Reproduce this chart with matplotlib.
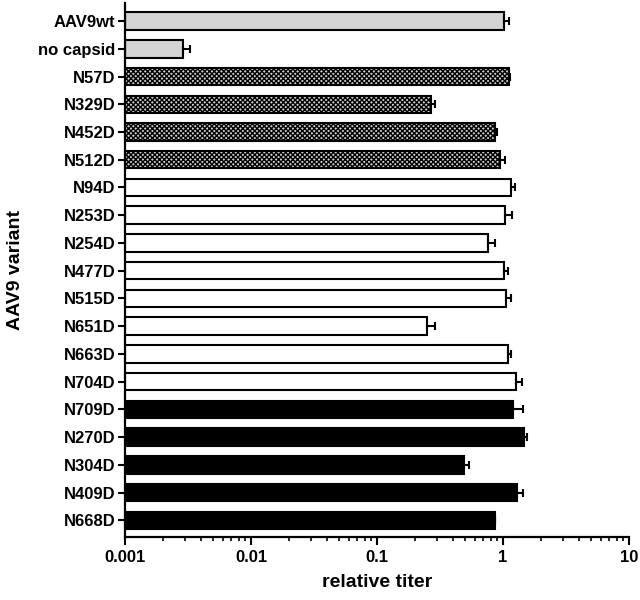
# AAV9 variant titers, horizontal bar chart on a log axis

import numpy as np
import matplotlib.pyplot as plt

plt.rcParams['font.family'] = ['Liberation Sans', 'DejaVu Sans']
plt.rcParams['font.weight'] = 'bold'
plt.rcParams['hatch.linewidth'] = 1.0

# data
variants = ['AAV9wt', 'no capsid', 'N57D', 'N329D', 'N452D', 'N512D',
            'N94D', 'N253D', 'N254D', 'N477D', 'N515D', 'N651D', 'N663D', 'N704D',
            'N709D', 'N270D', 'N304D', 'N409D', 'N668D']
titer = [1.02, 0.0029, 1.12, 0.27, 0.86, 0.95,
         1.16, 1.04, 0.76, 1.02, 1.06, 0.25, 1.09, 1.26,
         1.21, 1.47, 0.49, 1.30, 0.87]
titer_hi = [1.11, 0.0033, 1.14, 0.29, 0.90, 1.04,
            1.25, 1.17, 0.87, 1.09, 1.15, 0.29, 1.15, 1.41,
            1.44, 1.55, 0.54, 1.44, 0.87]
group = ['ctrl'] * 2 + ['hatch'] * 4 + ['open'] * 8 + ['solid'] * 5

styles = {'ctrl': dict(color='#d4d4d4', hatch=None),
          'hatch': dict(color='#cfcfcf', hatch='xxxxxxx'),
          'open': dict(color='white', hatch=None),
          'solid': dict(color='black', hatch=None)}

titer = np.array(titer)
titer_hi = np.array(titer_hi)
y = np.arange(len(variants))
base = 1e-3

fig = plt.figure(figsize=(6.4, 6.0), dpi=100)
ax = fig.add_axes([125 / 640, 63 / 600, 504 / 640, 534 / 600])
ax.set_xscale('log')

for i in range(len(variants)):
    st = styles[group[i]]
    ax.barh(y[i], titer[i] - base, left=base, height=0.63,
            color=st['color'], edgecolor='black', linewidth=1.5,
            hatch=st['hatch'], zorder=2)

ax.errorbar(titer, y, xerr=[np.zeros(len(titer)), titer_hi - titer],
            fmt='none', ecolor='black', elinewidth=1.5, capsize=3,
            capthick=1.5, zorder=3)

ax.set_xlim(0.001, 10)
ax.set_ylim(18.6, -0.65)
ax.set_xticks([0.001, 0.01, 0.1, 1, 10])
ax.set_xticklabels(['0.001', '0.01', '0.1', '1', '10'])
ax.set_yticks(y)
ax.set_yticklabels(variants)

ax.tick_params(axis='both', which='major', labelsize=12, width=1.5,
               length=6, direction='out')
ax.tick_params(axis='x', which='minor', width=1.2, length=3)
ax.tick_params(axis='y', length=5, pad=2)

for s in ['top', 'right']:
    ax.spines[s].set_visible(False)
for s in ['left', 'bottom']:
    ax.spines[s].set_linewidth(1.6)

ax.set_xlabel('relative titer', fontsize=14, fontweight='bold', labelpad=6)
ax.set_ylabel('AAV9 variant', fontsize=14, fontweight='bold')
ax.yaxis.set_label_coords(-0.2, 0.5)

plt.savefig('out.png', dpi=100)
